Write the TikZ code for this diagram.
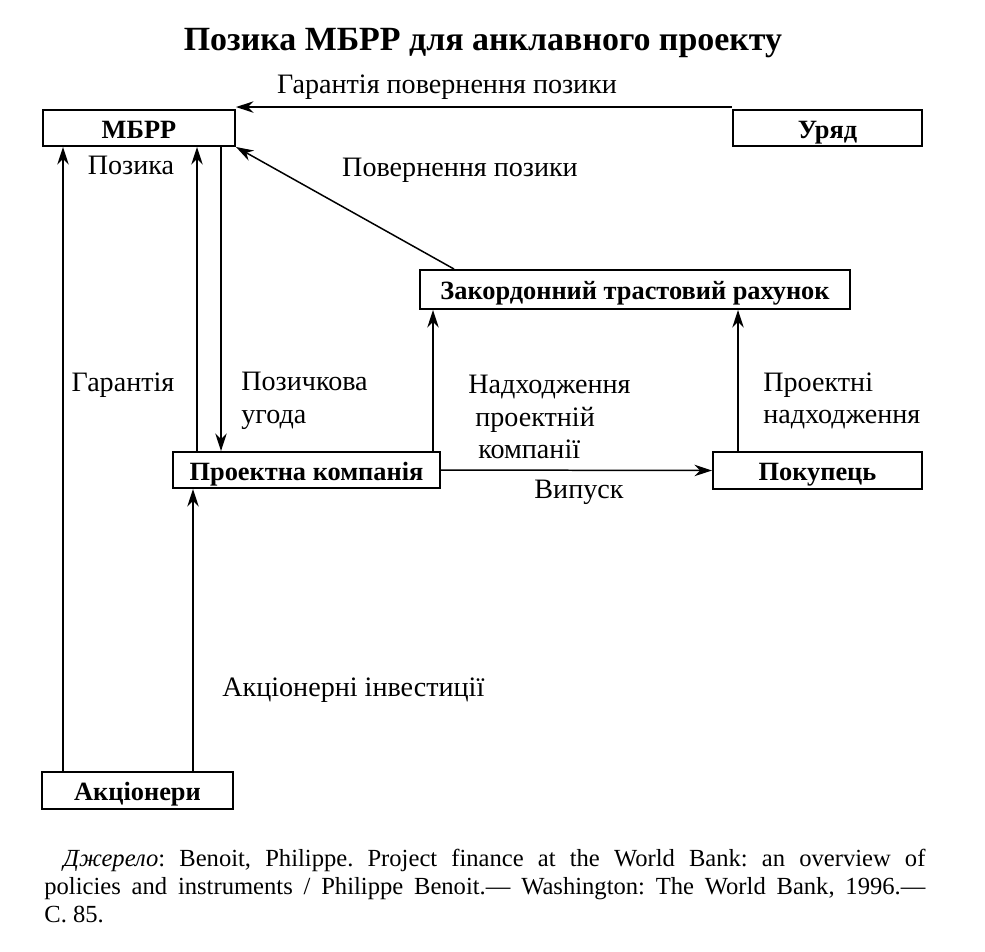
\documentclass[tikz,border=0pt]{standalone}
\usepackage{fontspec}
\setmainfont{Liberation Serif}
\usepackage{tikz}
\usetikzlibrary{arrows.meta, positioning}

\begin{document}
\begin{tikzpicture}[font=\fontsize{16}{18.5}\selectfont]
      % Styles
      \tikzset{box/.style={draw, rectangle, line width=1.1pt, inner sep=0pt, text height=11.5pt, text depth=0pt, font=\fontsize{15}{18}\selectfont\bfseries}}
      \tikzset{arr/.style={-{Stealth[length=10pt, width=6.5pt]}, line width=0.85pt}}
      \tikzset{lbl/.style={align=left, inner sep=0pt}}

      \useasboundingbox (0,0) rectangle (19.7,-19.02);

      % --- Title ---
      \node[font=\fontsize{19.3}{22}\selectfont\bfseries] (title) at (9.66,-0.86) {Позика МБРР для анклавного проекту};

      % --- The Boxes ---
      \node[box, minimum width=3.84cm, minimum height=0.72cm] (ibrd) at (2.78,-2.56) {МБРР};
      \node[box, minimum width=3.78cm, minimum height=0.72cm] (gov) at (16.55,-2.56) {Уряд};
      \node[box, minimum width=8.6cm, minimum height=0.78cm] (trust) at (12.7,-5.79) {Закордонний трастовий рахунок};
      \node[box, minimum width=5.34cm, minimum height=0.72cm] (comp) at (6.13,-9.40) {Проектна компанія};
      \node[box, minimum width=4.18cm, minimum height=0.74cm] (buyer) at (16.35,-9.41) {Покупець};
      \node[box, minimum width=3.82cm, minimum height=0.74cm] (share) at (2.75,-15.81) {Акціонери};

      % --- Columns of the vertical connectors ---
      \coordinate (c_guar) at (1.26,0);
      \coordinate (c_loan) at (3.94,0);
      \coordinate (c_agree) at (4.42,0);
      \coordinate (c_equity) at (3.86,0);
      \coordinate (c_comp) at (8.66,0);
      \coordinate (c_buyer) at (14.76,0);

      % --- The Arrows ---
      % 1. Government guarantee
      \draw[arr] ([yshift=0.04cm]gov.north west) -- ([yshift=0.04cm]ibrd.north east);
      \node (t_govguar) at (8.94,-1.74) {Гарантія повернення позики};

      % 2. Loan repayment from the trust account
      \draw[arr] ([xshift=0.7cm]trust.north west) -- (ibrd.south east);
      \node (t_repay) at (9.20,-3.40) {Повернення позики};

      % 3. Shareholders guarantee
      \draw[arr] (c_guar |- share.north) -- (c_guar |- ibrd.south);
      \node (t_guar) at (2.46,-7.70) {Гарантія};

      % 4. Loan and loan agreement
      \draw[arr] (c_loan |- comp.north) -- (c_loan |- ibrd.south);
      \node (t_loan) at (2.62,-3.30) {Позика};
      \draw[arr] (c_agree |- ibrd.south) -- (c_agree |- comp.north);
      \node[lbl, anchor=west] (t_agree) at (4.82,-8.02) {Позичкова\\угода};

      % 5. Equity investment
      \draw[arr] (c_equity |- share.north) -- (c_equity |- comp.south);
      \node[lbl, anchor=west] (t_equity) at (4.44,-13.80) {Акціонерні інвестиції};

      % 6. Into the trust account
      \draw[arr] (c_comp |- comp.north) -- (c_comp |- trust.south);
      \node[lbl, anchor=west] (t_compin) at (9.36,-8.34) {Надходження\\\hspace{0.14cm}проектній\\\hspace{0.2cm}компанії};
      \draw[arr] (c_buyer |- buyer.north) -- (c_buyer |- trust.south);
      \node[lbl, anchor=west] (t_buyerin) at (15.26,-8.02) {Проектні\\надходження};

      % 7. Output
      \draw[arr] (comp.east) -- (buyer.west);
      \node (t_output) at (11.58,-9.84) {Випуск};

      % --- Source ---
      \node[anchor=north west, inner sep=0pt, text width=17.62cm, align=justify,
            font=\fontsize{14}{16}\selectfont\frenchspacing] (source) at (0.88,-16.98)
        {\hspace*{0.38cm}\textit{Джерело}: Benoit, Philippe. Project finance at the World Bank: an overview of\linebreak
         policies and instruments / Philippe Benoit.— Washington: The World Bank, 1996.—\linebreak
         С. 85.};

    \end{tikzpicture}
\end{document}
